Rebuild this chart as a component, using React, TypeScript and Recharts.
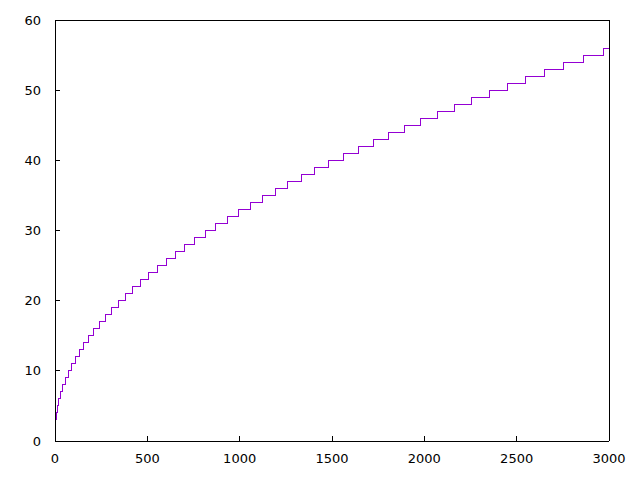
import { LineChart, Line, XAxis, YAxis } from 'recharts'

// x where each new level starts, last point closes the line at 3000
const stepX = [
  4, 6, 12, 20, 30, 42, 56, 72, 90, 110,
  132, 157, 183, 211, 240, 272, 307, 343, 381, 421,
  462, 507, 553, 602, 651, 701, 756, 813, 871, 932,
  994, 1057, 1123, 1192, 1260, 1333, 1406, 1483, 1562, 1641,
  1723, 1807, 1892, 1980, 2070, 2162, 2256, 2352, 2449, 2550,
  2652, 2756, 2864, 2972, 3000,
]

const stepY = [
  3, 4, 5, 6, 7, 8, 9, 10, 11, 12,
  13, 14, 15, 16, 17, 18, 19, 20, 21, 22,
  23, 24, 25, 26, 27, 28, 29, 30, 31, 32,
  33, 34, 35, 36, 37, 38, 39, 40, 41, 42,
  43, 44, 45, 46, 47, 48, 49, 50, 51, 52,
  53, 54, 55, 56, 56,
]

const xTicks = [0, 500, 1000, 1500, 2000, 2500, 3000]
const yTicks = [0, 10, 20, 30, 40, 50, 60]

const data = stepX.map((x, i) => ({ x, y: stepY[i] }))

const tickStyle = { fill: '#000', fontSize: 13, fontFamily: '"DejaVu Sans", sans-serif' }
const crisp = { stroke: '#000', shapeRendering: 'crispEdges' }

export default function App() {
  return (
    <div style={{ position: 'absolute', left: 0, top: 0, width: 640, height: 480, background: '#fff' }}>
      <LineChart
        width={640}
        height={480}
        data={data}
        margin={{ top: 19, right: 30, bottom: 38, left: 54 }}
      >
        <XAxis
          dataKey="x"
          type="number"
          domain={[0, 3000]}
          ticks={xTicks}
          height={1}
          stroke="#000"
          axisLine={crisp}
          tickLine={crisp}
          tickSize={-5}
          tickMargin={18}
          tick={tickStyle}
        />
        <XAxis
          xAxisId="top"
          orientation="top"
          type="number"
          domain={[0, 3000]}
          ticks={xTicks}
          height={1}
          stroke="#000"
          axisLine={crisp}
          tickLine={crisp}
          tickSize={-5}
          tick={false}
        />
        <YAxis
          type="number"
          domain={[0, 60]}
          ticks={yTicks}
          width={1}
          stroke="#000"
          axisLine={crisp}
          tickLine={crisp}
          tickSize={-5}
          tickMargin={19}
          tick={tickStyle}
        />
        <YAxis
          yAxisId="right"
          orientation="right"
          type="number"
          domain={[0, 60]}
          ticks={yTicks}
          width={1}
          stroke="#000"
          axisLine={crisp}
          tickLine={crisp}
          tickSize={-5}
          tick={false}
        />
        <Line
          type="stepAfter"
          dataKey="y"
          stroke="#9400d3"
          strokeWidth={1}
          shapeRendering="crispEdges"
          dot={false}
          isAnimationActive={false}
        />
      </LineChart>
    </div>
  )
}
